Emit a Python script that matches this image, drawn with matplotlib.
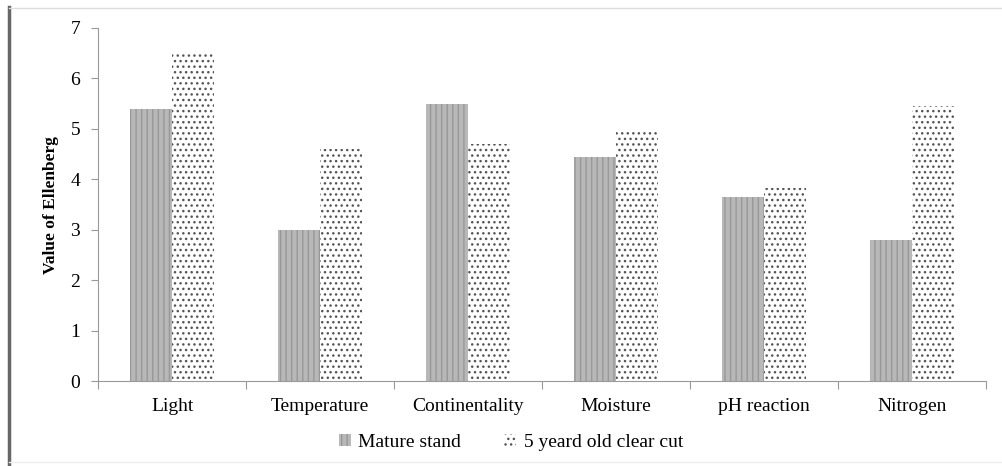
import numpy as np
import matplotlib
matplotlib.use('Agg')
import matplotlib.pyplot as plt
from matplotlib.lines import Line2D

# Ellenberg indicator values
categories = ['Light', 'Temperature', 'Continentality', 'Moisture', 'pH reaction', 'Nitrogen']
mature_stand = [5.4, 3.0, 5.5, 4.45, 3.65, 2.8]
clear_cut = [6.5, 4.6, 4.7, 4.95, 3.83, 5.45]
series_names = ['Mature stand', '5 yeard old clear cut']

plt.rcParams['font.family'] = ['Liberation Serif', 'DejaVu Serif']
plt.rcParams['hatch.linewidth'] = 1.0

fig = plt.figure(figsize=(10.02, 4.66), dpi=100)
ax = fig.add_axes([0.098, 0.182, 0.886, 0.758])

x = np.arange(len(categories))
w = 0.285
b1 = ax.bar(x - w / 2, mature_stand, w, color='#b8b8b8', edgecolor='#989898',
            linewidth=0, hatch='|||', label=series_names[0])
b2 = ax.bar(x + w / 2, clear_cut, w, color='white', edgecolor='#555555',
            linewidth=0, hatch='...', label=series_names[1])

ax.set_xlim(-0.5, len(categories) - 0.5)
ax.set_ylim(0, 7)
ax.set_yticks(range(8))
ax.set_xticks(np.arange(len(categories) + 1) - 0.5, minor=False)
ax.set_xticklabels([])
ax.set_xticks(x, minor=True)
ax.set_xticklabels(categories, minor=True)
ax.tick_params(axis='x', which='minor', length=0, pad=12, labelsize=14)
ax.tick_params(axis='x', which='major', length=6, direction='out', color='#999999')
ax.tick_params(axis='y', length=5, color='#999999', labelsize=14, pad=8)

for s in ['top', 'right']:
    ax.spines[s].set_visible(False)
ax.spines['left'].set_color('#999999')
ax.spines['bottom'].set_color('#999999')

ax.set_ylabel('Value of Ellenberg', fontsize=12.5, fontweight='bold', labelpad=8)

ax.legend(loc='upper center', bbox_to_anchor=(0.465, -0.10), ncol=2, frameon=False,
          fontsize=14, handlelength=0.6, handleheight=0.6, handletextpad=0.4,
          columnspacing=2.2)

# page border like in the scanned figure
fig.add_artist(Line2D([0.009, 0.009], [0.0, 0.985], color='#666666', lw=2.5))
fig.add_artist(Line2D([0.009, 1.0], [0.982, 0.982], color='#dddddd', lw=1))
fig.add_artist(Line2D([0.009, 1.0], [0.008, 0.008], color='#eeeeee', lw=1))

plt.savefig('out.png', dpi=100)
